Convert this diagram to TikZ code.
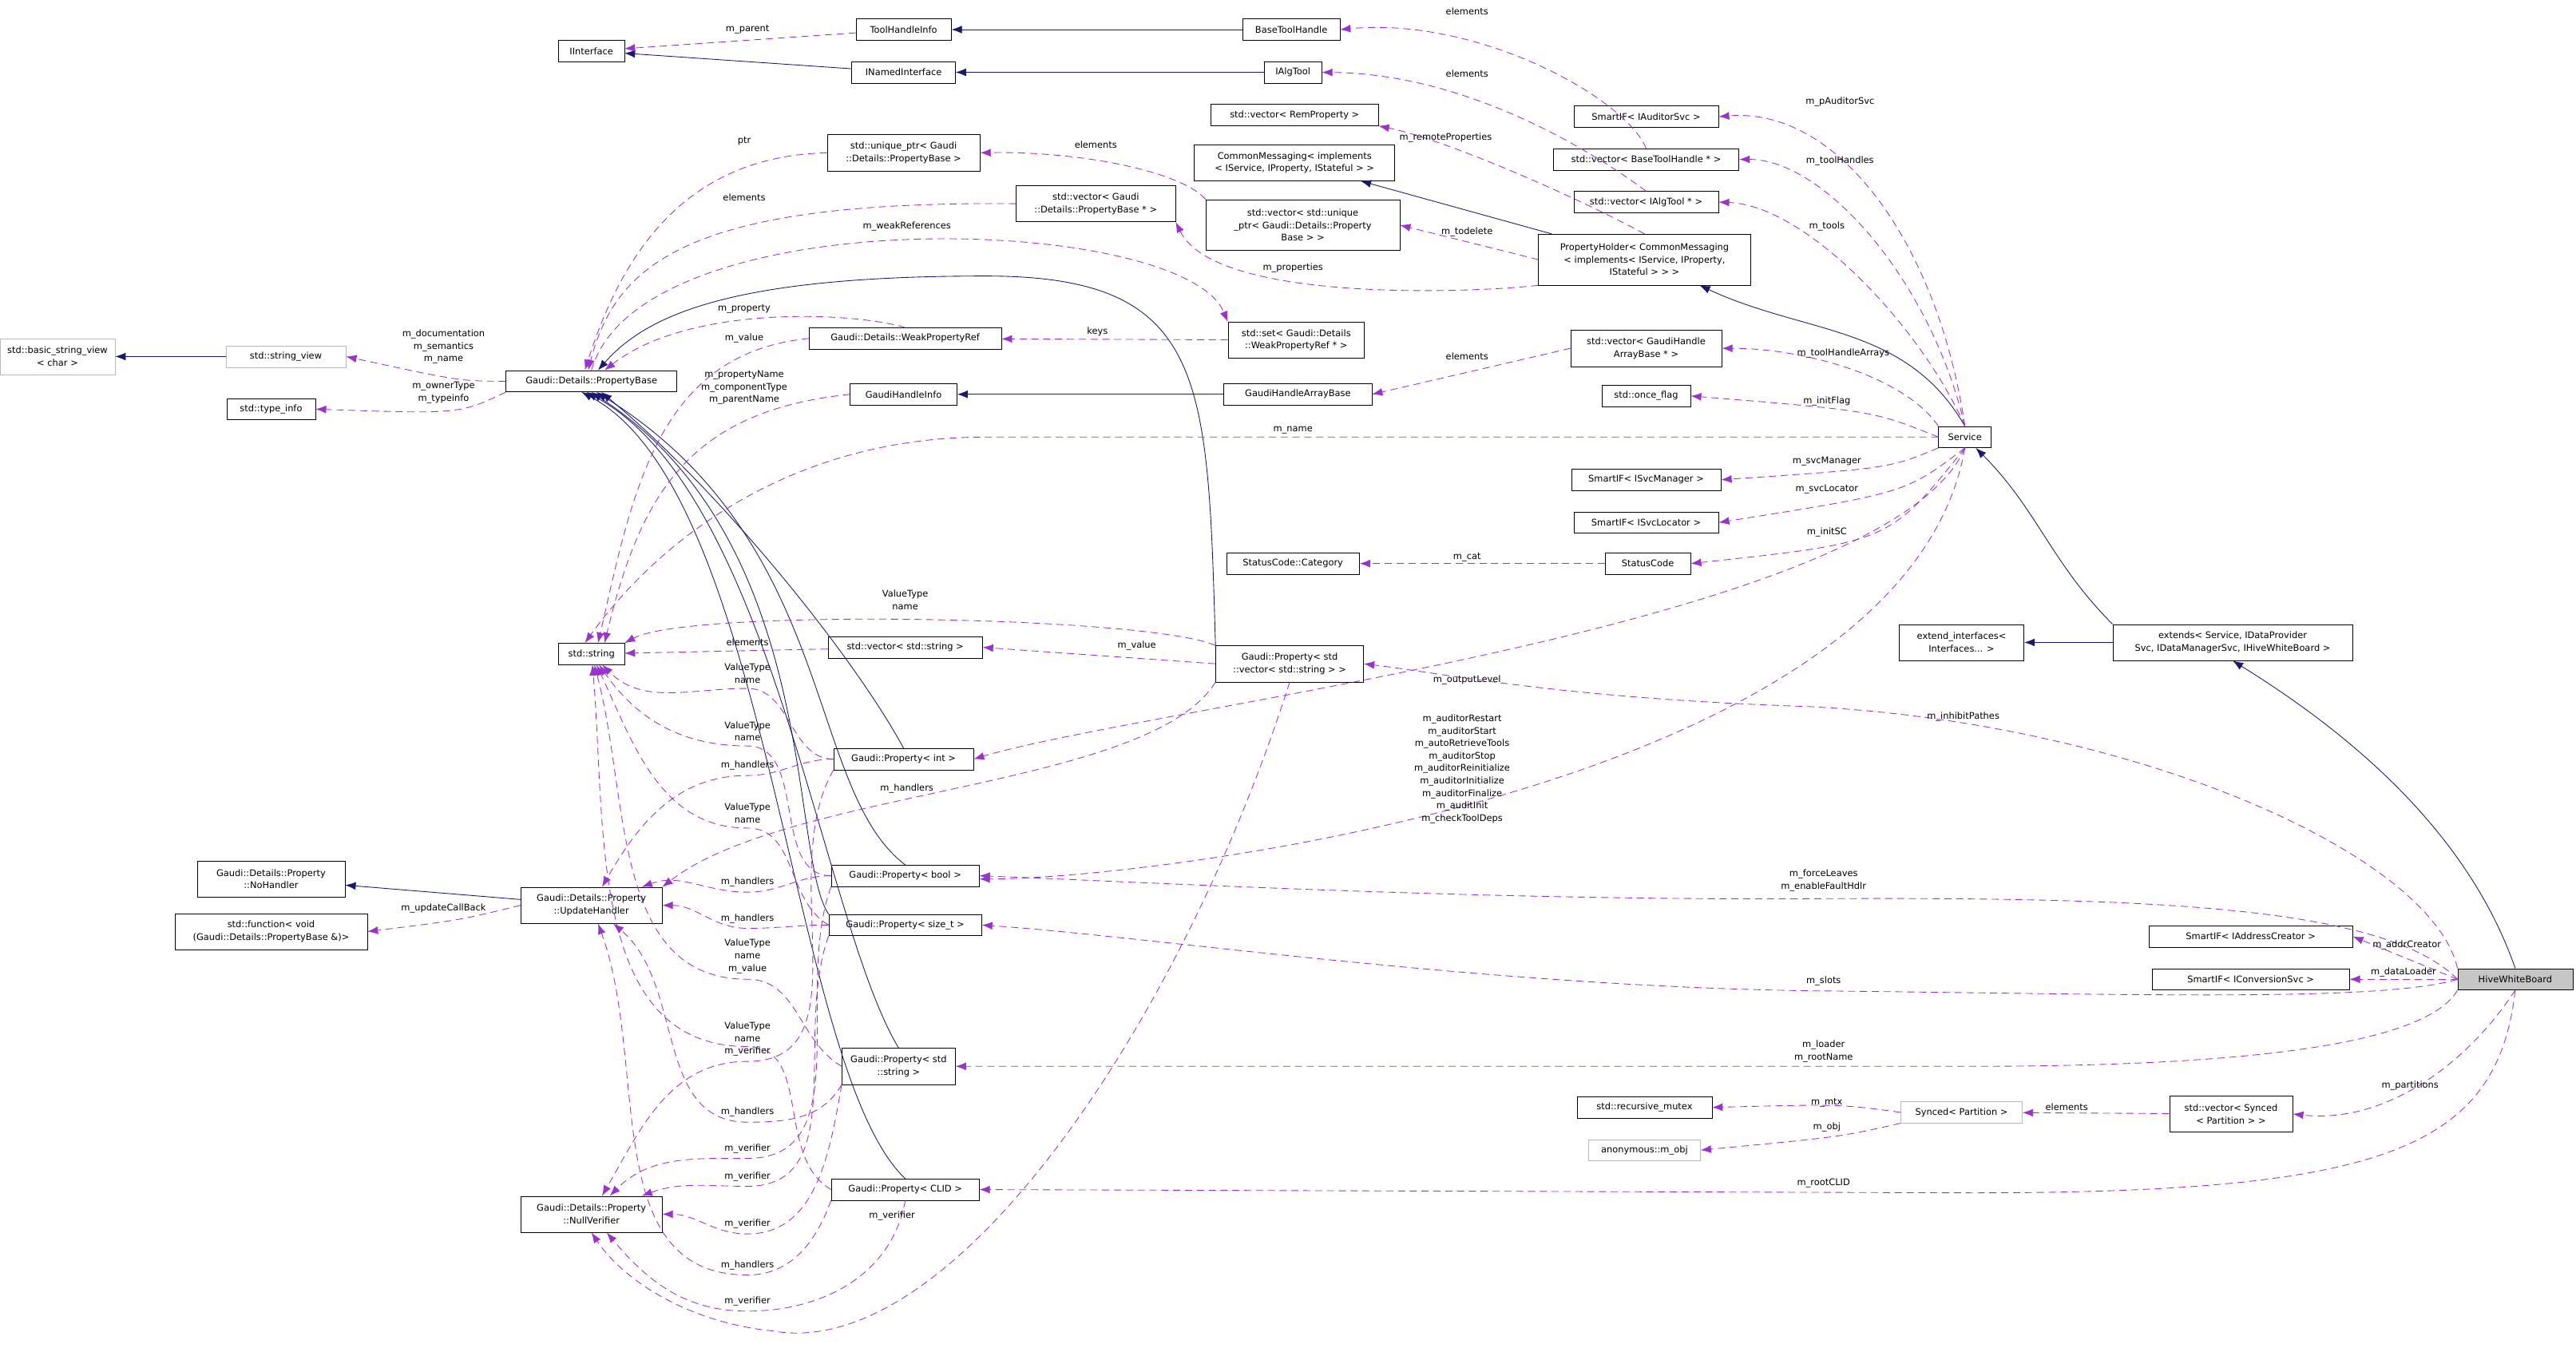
\documentclass[tikz,border=0pt]{standalone}
\usepackage{fontspec}
\setmainfont{DejaVu Sans}
\usetikzlibrary{arrows.meta}
\definecolor{inhc}{HTML}{191970}
\definecolor{usec}{HTML}{9A32CD}
\begin{document}
\begin{tikzpicture}[x=0.5mm,y=-0.5mm,
 font=\fontsize{7.9}{10.8}\selectfont,
 box/.style={draw=black, fill=white, inner xsep=1.5pt, inner ysep=1pt, align=center, minimum height=6.5mm},
 box2/.style={box, minimum height=11mm},
 box3/.style={box, minimum height=15.5mm},
 gbox/.style={box, draw=gray!55},
 wd/.style={minimum width=#1*0.5mm},
 lbl/.style={inner sep=0pt, align=center},
 inh/.style={draw=inhc, line width=0.6pt, -{Latex[length=3.2mm,width=2.4mm]}},
 use/.style={draw=usec, line width=0.6pt, dash pattern=on 2.2mm off 1.4mm, -{Latex[length=3.2mm,width=2.4mm]}}]
\useasboundingbox (0,0) rectangle (1568,825);
% nodes
\node[box,wd=40] (iint) at (360,31) {IInterface};
\node[box,wd=58] (thi) at (550,18) {ToolHandleInfo};
\node[box,wd=63] (ini) at (550,44) {INamedInterface};
\node[box,wd=59] (bth) at (786,18) {BaseToolHandle};
\node[box,wd=35] (iat) at (787,44) {IAlgTool};
\node[box,wd=102] (vrem) at (788,70) {std::vector< RemProperty >};
\node[box2,wd=122] (cm) at (788,99) {CommonMessaging< implements\\< IService, IProperty, IStateful > >};
\node[box2,wd=93] (uptr) at (550,93) {std::unique\_ptr< Gaudi\\::Details::PropertyBase >};
\node[box2,wd=97] (vpb) at (667,124) {std::vector< Gaudi\\::Details::PropertyBase * >};
\node[box3,wd=118] (vup) at (793,137) {std::vector< std::unique\\\_ptr< Gaudi::Details::Property\\Base > >};
\node[box3,wd=129] (ph) at (1001,158) {PropertyHolder< CommonMessaging\\< implements< IService, IProperty,\\IStateful > > >};
\node[box,wd=88] (aud) at (1002,71) {SmartIF< IAuditorSvc >};
\node[box,wd=113] (vbth) at (1002,97) {std::vector< BaseToolHandle * >};
\node[box,wd=88] (viat) at (1002,123) {std::vector< IAlgTool * >};
\node[box2,wd=83] (swr) at (789,207) {std::set< Gaudi::Details\\::WeakPropertyRef * >};
\node[box,wd=117] (wpr) at (551,206) {Gaudi::Details::WeakPropertyRef};
\node[box2,wd=92] (vgh) at (1002,212) {std::vector< GaudiHandle\\ArrayBase * >};
\node[box,wd=65] (ghi) at (550,240) {GaudiHandleInfo};
\node[box,wd=90] (gha) at (790,240) {GaudiHandleArrayBase};
\node[box,wd=54] (once) at (1002,241) {std::once\_flag};
\node[box,wd=32] (svc) at (1196,266) {Service};
\node[gbox,box2,draw=gray!55,wd=70] (bsv) at (35,217) {std::basic\_string\_view\\< char >};
\node[gbox,wd=73] (sv) at (174,217) {std::string\_view};
\node[box,wd=104] (pb) at (360,232) {Gaudi::Details::PropertyBase};
\node[box,wd=54] (ti) at (165,249) {std::type\_info};
\node[box,wd=91] (smgr) at (1002,292) {SmartIF< ISvcManager >};
\node[box,wd=88] (sloc) at (1002,318) {SmartIF< ISvcLocator >};
\node[box,wd=81] (cat) at (787,343) {StatusCode::Category};
\node[box,wd=52] (sc) at (1003,343) {StatusCode};
\node[box,wd=40] (str) at (360,398) {std::string};
\node[box,wd=94] (vstr) at (551,394) {std::vector< std::string >};
\node[box2,wd=90] (pvs) at (785,404) {Gaudi::Property< std\\::vector< std::string > >};
\node[box2,wd=76] (ei) at (1194,391) {extend\_interfaces<\\Interfaces... >};
\node[box2,wd=146] (ext) at (1359,391) {extends< Service, IDataProvider\\Svc, IDataManagerSvc, IHiveWhiteBoard >};
\node[box,wd=85] (pint) at (550,462) {Gaudi::Property< int >};
\node[box2,wd=90] (nh) at (165,535) {Gaudi::Details::Property\\::NoHandler};
\node[box2,wd=86] (uh) at (360,551) {Gaudi::Details::Property\\::UpdateHandler};
\node[box2,wd=117] (fn) at (165,567) {std::function< void\\(Gaudi::Details::PropertyBase \&)>};
\node[box,wd=90] (pbool) at (551,533) {Gaudi::Property< bool >};
\node[box,wd=93] (psz) at (551,563) {Gaudi::Property< size\_t >};
\node[box2,wd=69] (pstr) at (547,649) {Gaudi::Property< std\\::string >};
\node[box,wd=90] (pclid) at (551,724) {Gaudi::Property< CLID >};
\node[box2,wd=86] (nv) at (360,739) {Gaudi::Details::Property\\::NullVerifier};
\node[box,wd=124] (sac) at (1370,570) {SmartIF< IAddressCreator >};
\node[box,wd=120] (scs) at (1370,596) {SmartIF< IConversionSvc >};
\node[box,wd=70,fill=gray!45] (hwb) at (1531,596) {HiveWhiteBoard};
\node[box,wd=82] (rmx) at (1001,674) {std::recursive\_mutex};
\node[gbox,wd=74] (syn) at (1194,677) {Synced< Partition >};
\node[box2,wd=75] (vsyn) at (1358,678) {std::vector< Synced\\< Partition > >};
\node[gbox,wd=68] (anon) at (1001,700) {anonymous::m\_obj};
% inheritance
\draw[inh] (ini) -- (iint);
\draw[inh] (bth) -- (thi);
\draw[inh] (iat) -- (ini);
\draw[inh] (ph) -- (cm);
\draw[inh] (svc.north) to[out=120,in=-25] (ph);
\draw[inh] (gha) -- (ghi);
\draw[inh] (sv) -- (bsv);
\draw[inh] (uh) -- (nh);
\draw[inh] (ext) -- (ei);
\draw[inh] (ext.north west) to[out=135,in=-45] (svc);
\draw[inh] (hwb.north) .. controls (1500,500) and (1420,440) .. (ext.south);
\draw[inh] (pvs.north west) .. controls (735,230) and (735,168) .. (600,168) .. controls (450,168) and (395,190) .. ([xshift=2mm]pb.north);
\draw[inh] (pint.north) .. controls (520,400) and (440,300) .. ([xshift=3mm]pb.south);
\draw[inh] (pbool.north) .. controls (490,480) and (510,330) .. ([xshift=1.5mm]pb.south);
\draw[inh] (psz.north west) .. controls (480,520) and (500,330) .. (pb.south);
\draw[inh] (pstr.north) .. controls (500,560) and (470,300) .. ([xshift=-1.5mm]pb.south);
\draw[inh] (pclid.north) .. controls (480,650) and (470,300) .. ([xshift=-3mm]pb.south);
% usage top
\draw[use] (thi) -- (iint); \node[lbl] at (455,18) {m\_parent};
\draw[use] (vbth.north) .. controls (990,60) and (900,10) .. (bth.east); \node[lbl] at (893,7) {elements};
\draw[use] (viat.north) .. controls (980,100) and (900,45) .. (iat.east); \node[lbl] at (893,45) {elements};
\draw[use] (ph.north) .. controls (960,120) and (880,85) .. (vrem.south east); \node[lbl] at (880,84) {m\_remoteProperties};
\draw[use] (ph.west) -- (vup.east); \node[lbl] at (893,141) {m\_todelete};
\draw[use] (ph.south west) .. controls (900,178) and (740,185) .. (vpb.south east); \node[lbl] at (787,163) {m\_properties};
\draw[use] (vup.north west) .. controls (720,105) and (660,92) .. (uptr.east); \node[lbl] at (667,88) {elements};
\draw[use] (uptr.west) .. controls (420,95) and (380,150) .. ([xshift=-2mm]pb.north); \node[lbl] at (453,86) {ptr};
\draw[use] (vpb.west) .. controls (420,122) and (375,160) .. ([xshift=-1mm]pb.north); \node[lbl] at (453,120) {elements};
\draw[use] (pb.north) .. controls (390,120) and (720,130) .. (swr.north west); \node[lbl] at (552,138) {m\_weakReferences};
\draw[use] (swr) -- (wpr); \node[lbl] at (668,202) {keys};
\draw[use] (wpr.north) .. controls (520,190) and (420,185) .. ([xshift=4mm]pb.north); \node[lbl] at (453,188) {m\_property};
\draw[use] (wpr.west) .. controls (400,215) and (385,300) .. ([xshift=2mm]str.north); \node[lbl] at (453,206) {m\_value};
\draw[use] (ghi.west) .. controls (420,250) and (390,300) .. ([xshift=4mm]str.north); \node[lbl] at (453,236) {m\_propertyName\\m\_componentType\\m\_parentName};
\draw[use] (vgh.west) .. controls (900,225) .. (gha.east); \node[lbl] at (893,217) {elements};
\draw[use] (pb.west) .. controls (280,232) .. (sv.east); \node[lbl] at (270,211) {m\_documentation\\m\_semantics\\m\_name};
\draw[use] (pb.south west) .. controls (280,252) .. (ti.east); \node[lbl] at (270,239) {m\_ownerType\\m\_typeinfo};
% service
\draw[use] (svc.north) .. controls (1180,150) and (1120,65) .. (aud.east); \node[lbl] at (1120,62) {m\_pAuditorSvc};
\draw[use] (svc.north) .. controls (1175,170) and (1110,97) .. (vbth.east); \node[lbl] at (1120,98) {m\_toolHandles};
\draw[use] (svc.north) .. controls (1170,200) and (1100,125) .. (viat.east); \node[lbl] at (1112,138) {m\_tools};
\draw[use] (svc.north west) .. controls (1160,230) and (1100,212) .. (vgh.east); \node[lbl] at (1122,215) {m\_toolHandleArrays};
\draw[use] (svc.west) .. controls (1140,250) .. (once.east); \node[lbl] at (1112,244) {m\_initFlag};
\draw[use] (svc.west) -- (600,266) .. controls (480,266) and (400,330) .. ([xshift=-2mm]str.north); \node[lbl] at (787,262) {m\_name};
\draw[use] (svc.south west) .. controls (1150,285) .. (smgr.east); \node[lbl] at (1112,281) {m\_svcManager};
\draw[use] (svc.south) .. controls (1160,300) .. (sloc.east); \node[lbl] at (1112,298) {m\_svcLocator};
\draw[use] (svc.south) .. controls (1150,330) .. (sc.east); \node[lbl] at (1112,324) {m\_initSC};
\draw[use] (sc) -- (cat); \node[lbl] at (893,339) {m\_cat};
\draw[use] (svc.south) .. controls (1150,380) and (700,430) .. (pint.east); \node[lbl] at (893,414) {m\_outputLevel};
\draw[use] (svc.south) .. controls (1160,480) and (700,535) .. ([yshift=-1mm]pbool.east);
\node[lbl] at (890,468) {m\_auditorRestart\\m\_auditorStart\\m\_autoRetrieveTools\\m\_auditorStop\\m\_auditorReinitialize\\m\_auditorInitialize\\m\_auditorFinalize\\m\_auditInit\\m\_checkToolDeps};
% property vector string
\draw[use] (pvs.north west) .. controls (700,375) and (420,370) .. (str.north east); \node[lbl] at (551,365) {ValueType\\name};
\draw[use] (pvs.west) -- (vstr.east); \node[lbl] at (692,393) {m\_value};
\draw[use] (vstr) -- (str); \node[lbl] at (455,391) {elements};
\draw[use] (pvs.south west) .. controls (700,480) and (480,480) .. (uh.north east); \node[lbl] at (552,480) {m\_handlers};
\draw[use] (pvs.south) .. controls (720,620) and (580,830) .. (470,810) .. controls (420,805) and (380,780) .. (nv.south); \node[lbl] at (543,740) {m\_verifier};
% properties left
\draw[use] (pint.west) to[out=180,in=0] (455,419) to[out=180,in=-45] (str); \node[lbl] at (455,410) {ValueType\\name};
\draw[use] (pint.west) to[out=180,in=0] (455,472) to[out=180,in=60] (uh); \node[lbl] at (455,466) {m\_handlers};
\draw[use] (pint.south west) to[out=-120,in=0] (455,646) to[out=180,in=60] (nv); \node[lbl] at (455,640) {m\_verifier};
\draw[use] (pbool.west) to[out=180,in=0] (455,454) to[out=180,in=-55] (str); \node[lbl] at (455,445) {ValueType\\name};
\draw[use] (pbool.west) to[out=180,in=0] (455,543) to[out=180,in=20] (uh); \node[lbl] at (455,537) {m\_handlers};
\draw[use] (pbool.south west) to[out=-110,in=0] (455,705) to[out=180,in=45] (nv); \node[lbl] at (455,699) {m\_verifier};
\draw[use] (psz.west) to[out=150,in=0] (455,504) to[out=180,in=-65] (str); \node[lbl] at (455,495) {ValueType\\name};
\draw[use] (psz.west) to[out=180,in=0] (455,565) to[out=180,in=0] (uh); \node[lbl] at (455,559) {m\_handlers};
\draw[use] (psz.south west) to[out=-110,in=0] (455,722) to[out=180,in=20] (nv); \node[lbl] at (455,716) {m\_verifier};
\draw[use] (pstr.west) to[out=150,in=0] (455,596) to[out=180,in=-75] (str); \node[lbl] at (455,582) {ValueType\\name\\m\_value};
\draw[use] (pstr.south west) to[out=-120,in=0] (455,683) to[out=180,in=-40] (uh); \node[lbl] at (455,677) {m\_handlers};
\draw[use] (pstr.south west) to[out=-100,in=0] (455,751) to[out=180,in=0] (nv); \node[lbl] at (455,745) {m\_verifier};
\draw[use] (pclid.west) to[out=150,in=0] (455,637) to[out=180,in=-85] (str); \node[lbl] at (455,628) {ValueType\\name};
\draw[use] (pclid.south west) to[out=-110,in=0] (455,776) to[out=180,in=-70] (uh); \node[lbl] at (455,770) {m\_handlers};
\draw[use] (pclid.south) to[out=-100,in=0] (455,798) to[out=180,in=-50] (nv); \node[lbl] at (455,792) {m\_verifier};
\draw[use] (uh.west) .. controls (280,560) .. (fn.east); \node[lbl] at (270,553) {m\_updateCallBack};
% HiveWhiteBoard
\draw[use] (hwb.north west) .. controls (1480,520) and (1300,440) .. (1100,430) .. controls (950,425) and (880,410) .. (pvs.east); \node[lbl] at (1195,436) {m\_inhibitPathes};
\draw[use] (hwb.west) .. controls (1450,550) and (1300,546) .. (1100,547) .. controls (900,548) and (700,537) .. (pbool.east); \node[lbl] at (1110,536) {m\_forceLeaves\\m\_enableFaultHdlr};
\draw[use] (hwb.west) .. controls (1450,610) and (1300,605) .. (1100,603) .. controls (900,600) and (700,570) .. (psz.east); \node[lbl] at (1110,597) {m\_slots};
\draw[use] (hwb.south west) .. controls (1480,630) and (1400,649) .. (1200,649) -- (pstr.east); \node[lbl] at (1110,640) {m\_loader\\m\_rootName};
\draw[use] (hwb.south) .. controls (1520,700) and (1450,726) .. (1200,726) -- (pclid.east); \node[lbl] at (1110,720) {m\_rootCLID};
\draw[use] (hwb.south) .. controls (1500,650) and (1450,684) .. (vsyn.east); \node[lbl] at (1467,661) {m\_partitions};
\draw[use] (hwb.west) -- (sac.east); \node[lbl] at (1465,575) {m\_addrCreator};
\draw[use] (hwb.west) -- (scs.east); \node[lbl] at (1463,592) {m\_dataLoader};
\draw[use] (vsyn) -- (syn); \node[lbl] at (1258,674) {elements};
\draw[use] (syn.west) .. controls (1120,672) .. (rmx.east); \node[lbl] at (1112,671) {m\_mtx};
\draw[use] (syn.south west) .. controls (1120,692) .. (anon.east); \node[lbl] at (1112,686) {m\_obj};
\end{tikzpicture}
\end{document}
